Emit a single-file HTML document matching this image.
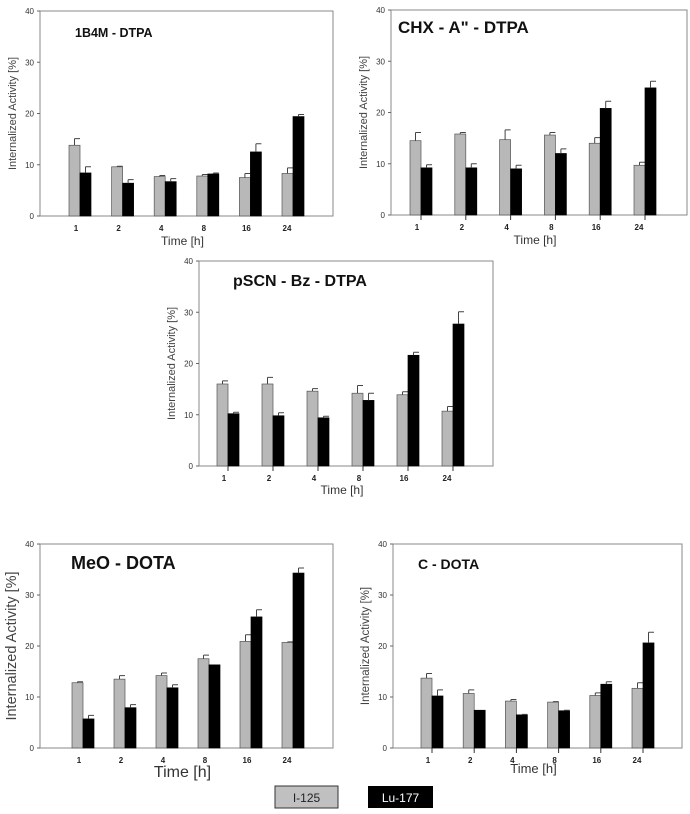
<!DOCTYPE html>
<html><head><meta charset="utf-8">
<style>
html,body{margin:0;padding:0;background:#fff;}
svg{display:block;font-family:"Liberation Sans",Arial,sans-serif;}
</style></head>
<body>
<svg id="fig" width="690" height="814" viewBox="0 0 690 814" xmlns="http://www.w3.org/2000/svg">
  <g>
    <rect x="275" y="786" width="63" height="22" fill="#c0c0c0" stroke="#333" stroke-width="1"/>
    <text x="306.5" y="802" font-size="12" text-anchor="middle" fill="#222">I-125</text>
    <rect x="368" y="786" width="65" height="22" fill="#000"/>
    <text x="400.5" y="802" font-size="12" text-anchor="middle" fill="#fff">Lu-177</text>
  </g>
</svg>
<script>
const categories = ["1","2","4","8","16","24"];
const yTicks = [0,10,20,30,40];
const titles = ["1B4M - DTPA","CHX - A\" - DTPA","pSCN - Bz - DTPA","MeO - DOTA","C - DOTA"];
const i125Values = [
  [13.8,9.6,7.7,7.8,7.5,8.3],
  [14.5,15.8,14.7,15.6,14.0,9.7],
  [16.0,16.0,14.6,14.2,13.9,10.7],
  [12.8,13.5,14.2,17.5,20.9,20.7],
  [13.7,10.7,9.2,9.0,10.3,11.7]
];
const i125Errors = [
  [1.3,0.1,0.2,0.3,0.8,1.1],
  [1.6,0.3,1.9,0.5,1.1,0.6],
  [0.6,1.3,0.5,1.5,0.6,0.9],
  [0.2,0.7,0.5,0.7,1.3,0.1],
  [0.9,0.7,0.3,0.1,0.5,1.1]
];
const lu177Values = [
  [8.4,6.4,6.7,8.2,12.5,19.4],
  [9.2,9.2,9.0,12.0,20.8,24.8],
  [10.2,9.8,9.4,12.8,21.6,27.7],
  [5.7,7.9,11.8,16.3,25.7,34.3],
  [10.2,7.4,6.5,7.3,12.5,20.6]
];
const lu177Errors = [
  [1.2,0.7,0.6,0.2,1.6,0.4],
  [0.6,0.8,0.7,0.9,1.4,1.3],
  [0.3,0.6,0.3,1.4,0.6,2.4],
  [0.7,0.6,0.6,0.0,1.4,1.0],
  [1.2,0.0,0.1,0.1,0.5,2.1]
];
const yMax = 40;

// layout (not data)
const panels = [
  {x0:40,x1:333,y0:11,y1:216,c0:80,c1:293,bw:11,tx:75,ty:37,tf:12.5,lf:11,xf:12,ticks:false,txLabelY:245},
  {x0:391,x1:687,y0:10,y1:215,c0:421,c1:645,bw:11,tx:398,ty:33,tf:17,lf:11,xf:12,ticks:true,txLabelY:244},
  {x0:199,x1:493,y0:261,y1:466,c0:228,c1:453,bw:11,tx:233,ty:286,tf:16,lf:11,xf:12,ticks:true,txLabelY:494},
  {x0:40,x1:333,y0:544,y1:748,c0:83,c1:293,bw:11,tx:71,ty:569,tf:18,lf:14.5,xf:16,ticks:false,txLabelY:777},
  {x0:393,x1:682,y0:544,y1:748,c0:432,c1:643,bw:11,tx:418,ty:569,tf:14,lf:11.5,xf:13,ticks:true,txLabelY:773}
];
const NS="http://www.w3.org/2000/svg";
const svg=document.getElementById('fig');
function mk(tag,attrs,parent){const e=document.createElementNS(NS,tag);for(const k in attrs)e.setAttribute(k,attrs[k]);parent.appendChild(e);return e;}

panels.forEach((p,pi)=>{
  const g=mk('g',{},svg);
  
  
  const yS=v=>p.y1-(v/yMax)*(p.y1-p.y0);
  const xS=i=>p.c0+(p.c1-p.c0)*i/(categories.length-1);
  const box=mk('rect',{x:p.x0,y:p.y0,width:p.x1-p.x0,height:p.y1-p.y0,fill:'none',stroke:'#8a8a8a','stroke-width':1},g);
  
  
  yTicks.forEach(t=>{
    const y=yS(t);
    const tl=mk('line',{x1:p.x0-3,x2:p.x0,y1:y,y2:y,stroke:'#666','stroke-width':1},g);
    
    
    const tx=mk('text',{x:p.x0-6,y:y+3,'font-size':8,'text-anchor':'end',fill:'#333'},g);
    tx.textContent=t;
    
    
  });
  const yl=mk('text',{x:0,y:0,'font-size':p.lf,'text-anchor':'middle',fill:'#444',transform:`translate(${p.x0-24},${(p.y0+p.y1)/2}) rotate(-90)`},g);
  yl.textContent='Internalized Activity [%]';
  
  
  const ti=mk('text',{x:p.tx,y:p.ty,'font-size':p.tf,'font-weight':'bold',fill:'#111'},g);
  ti.textContent=titles[pi];
  
  
  categories.forEach((c,i)=>{
    const cx=xS(i);
    if(p.ticks){
      const tk=mk('line',{x1:cx,x2:cx,y1:p.y1,y2:p.y1+5,stroke:'#333','stroke-width':1},g);
      
      
    }
    const lb=mk('text',{x:cx-(i===5?6:4),y:p.y1+15,'font-size':8,'font-weight':'bold','text-anchor':'middle',fill:'#222'},g);
    lb.textContent=c;
    
    
    [[i125Values,i125Errors,'#b8b8b8','#555',-1,'bar-i125'],[lu177Values,lu177Errors,'#000','#000',0,'bar-lu177']].forEach(s=>{
      const v=s[0][pi][i], e=s[1][pi][i];
      const bx=cx+s[4]*p.bw;
      const r=mk('rect',{x:bx,y:yS(v),width:p.bw,height:p.y1-yS(v),fill:s[2],stroke:s[3],'stroke-width':0.7},g);
      
      
      if(e>0){
        const mx=bx+p.bw/2;
        const el=mk('path',{d:`M${mx},${yS(v)} V${yS(v+e)} M${mx},${yS(v+e)} H${mx+p.bw*0.5}`,stroke:'#444','stroke-width':1,fill:'none'},g);
        
        
      }
    });
  });
  const xt=mk('text',{x:(p.x0+p.x1)/2-4,y:p.txLabelY,'font-size':p.xf,'text-anchor':'middle',fill:'#333'},g);
  xt.textContent='Time [h]';
  
  
});
</script>
</body></html>
